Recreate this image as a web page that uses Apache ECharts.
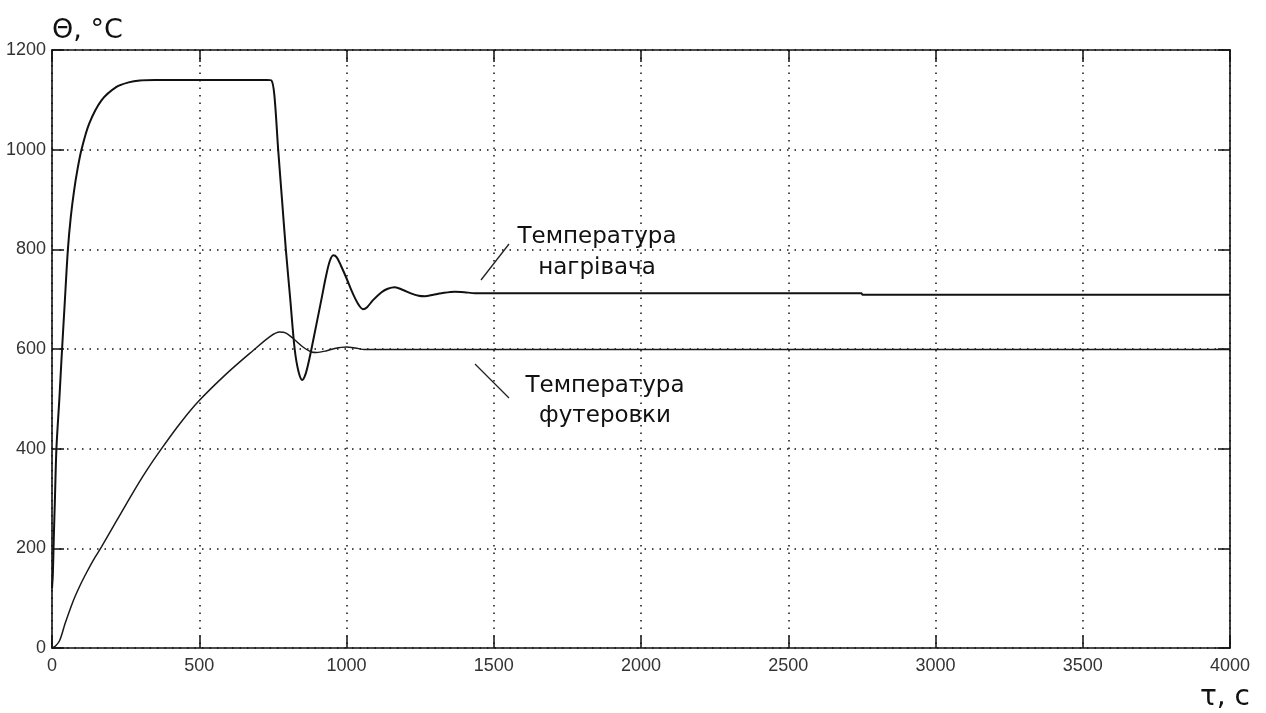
<!DOCTYPE html>
<html>
<head>
<meta charset="utf-8">
<script src="https://cdn.jsdelivr.net/npm/echarts@6/dist/echarts.min.js"></script>
<style>
  html, body { margin: 0; padding: 0; background: #fff; }
  #chart { width: 1266px; height: 713px; }
</style>
</head>
<body>
<div id="chart"></div>
<script>
// Time axis (s) and temperature axis (°C) ranges
const xTicks = [0, 500, 1000, 1500, 2000, 2500, 3000, 3500, 4000];
const yTicks = [0, 200, 400, 600, 800, 1000, 1200];

// Heater temperature, [time s, °C]
const heaterTemp = [
  [0, 120], [3, 150], [6, 220], [10, 300], [15, 400], [25, 500], [32, 577],
  [43, 690], [54, 800], [64, 866], [75, 918], [87, 962], [100, 1000],
  [126, 1052], [168, 1099], [219, 1126], [260, 1135], [298, 1139], [350, 1140],
  [730, 1140], [745, 1139], [755, 1110], [768, 1000], [781, 900], [794, 800],
  [809, 700], [824, 600], [837, 555], [850, 538], [860, 548], [870, 570],
  [881, 600], [898, 650], [915, 700], [930, 745], [943, 776], [955, 788],
  [967, 784], [982, 766], [1000, 742], [1015, 720], [1028, 703], [1042, 688],
  [1056, 680], [1070, 684], [1090, 698], [1119, 714], [1140, 721], [1164, 724],
  [1190, 719], [1221, 711], [1245, 707], [1266, 706], [1295, 709], [1323, 712],
  [1368, 715], [1400, 714], [1436, 712], [2748, 712], [2752, 709], [4000, 709]
];

// Furnace lining temperature, [time s, °C]
const liningTemp = [
  [0, 0], [12, 4], [26, 15], [45, 50], [71, 93], [94, 124], [117, 151],
  [140, 176], [168, 203], [219, 255], [275, 312], [321, 356], [372, 400],
  [434, 450], [496, 494], [592, 550], [683, 597], [740, 625], [773, 634],
  [795, 632], [819, 621], [850, 605], [881, 594], [898, 593], [930, 596],
  [960, 601], [1000, 604], [1030, 602], [1062, 599], [4000, 599]
];

const labelHeater = ['Температура', 'нагрівача'];
const labelLining = ['Температура', 'футеровки'];

const chart = echarts.init(document.getElementById('chart'), null, { renderer: 'canvas' });

const tickFont = { fontFamily: '"Liberation Sans Narrow", "Liberation Sans", sans-serif', fontSize: 18, color: '#333' };
const plain = v => String(v);
const dotted = { color: '#111', width: 1.5, type: [1.5, 6] };
const frameLine = { show: true, onZero: false, lineStyle: { color: '#111', width: 1.6 } };
const innerTick = { show: true, inside: true, length: 12, lineStyle: { color: '#111', width: 1.5 } };

const annotFont = '"DejaVu Sans", "Noto Sans", sans-serif';

chart.setOption({
  animation: false,
  backgroundColor: '#fff',
  grid: { left: 52, right: 36, top: 50, bottom: 65, containLabel: false },
  xAxis: [
    {
      type: 'value', min: xTicks[0], max: xTicks[xTicks.length - 1], interval: 500,
      position: 'bottom',
      axisLine: frameLine, axisTick: innerTick,
      axisLabel: Object.assign({ margin: 9, formatter: plain }, tickFont),
      splitLine: { show: true, lineStyle: dotted },
      name: 'τ, с', nameLocation: 'end', nameGap: 20,
      nameTextStyle: { fontFamily: annotFont, fontSize: 28, color: '#111', align: 'right', verticalAlign: 'top', padding: [36, 0, 0, 0] }
    },
    {
      type: 'value', min: xTicks[0], max: xTicks[xTicks.length - 1], interval: 500,
      position: 'top',
      axisLine: frameLine, axisTick: innerTick,
      axisLabel: { show: false }, splitLine: { show: false }
    }
  ],
  yAxis: [
    {
      type: 'value', min: yTicks[0], max: yTicks[yTicks.length - 1], interval: 200,
      position: 'left',
      axisLine: frameLine, axisTick: innerTick,
      axisLabel: Object.assign({ margin: 6, formatter: plain }, tickFont),
      splitLine: { show: true, lineStyle: dotted },
      name: 'Θ, °C', nameLocation: 'end', nameGap: 6,
      nameTextStyle: { fontFamily: annotFont, fontSize: 27, color: '#111', align: 'left', verticalAlign: 'bottom' }
    },
    {
      type: 'value', min: yTicks[0], max: yTicks[yTicks.length - 1], interval: 200,
      position: 'right',
      axisLine: frameLine, axisTick: innerTick,
      axisLabel: { show: false }, splitLine: { show: false }
    }
  ],
  series: [
    {
      name: labelHeater.join(' '), type: 'line', data: heaterTemp,
      showSymbol: false, smooth: 0.3, clip: true,
      lineStyle: { color: '#111', width: 2 }
    },
    {
      name: labelLining.join(' '), type: 'line', data: liningTemp,
      showSymbol: false, smooth: 0.3, clip: true,
      lineStyle: { color: '#1a1a1a', width: 1.5 }
    }
  ],
  graphic: [
    {
      type: 'text', x: 597, y: 222,
      style: { text: labelHeater.join('\n'), x: 0, y: 0, align: 'center', fill: '#111',
               font: '23px ' + annotFont, lineHeight: 31 }
    },
    {
      type: 'line', shape: { x1: 481, y1: 280, x2: 509, y2: 244 },
      style: { stroke: '#222', lineWidth: 1.3 }
    },
    {
      type: 'text', x: 605, y: 371,
      style: { text: labelLining.join('\n'), x: 0, y: 0, align: 'center', fill: '#111',
               font: '23px ' + annotFont, lineHeight: 30 }
    },
    {
      type: 'line', shape: { x1: 475, y1: 364, x2: 509, y2: 398 },
      style: { stroke: '#222', lineWidth: 1.3 }
    }
  ]
});
</script>
</body>
</html>
